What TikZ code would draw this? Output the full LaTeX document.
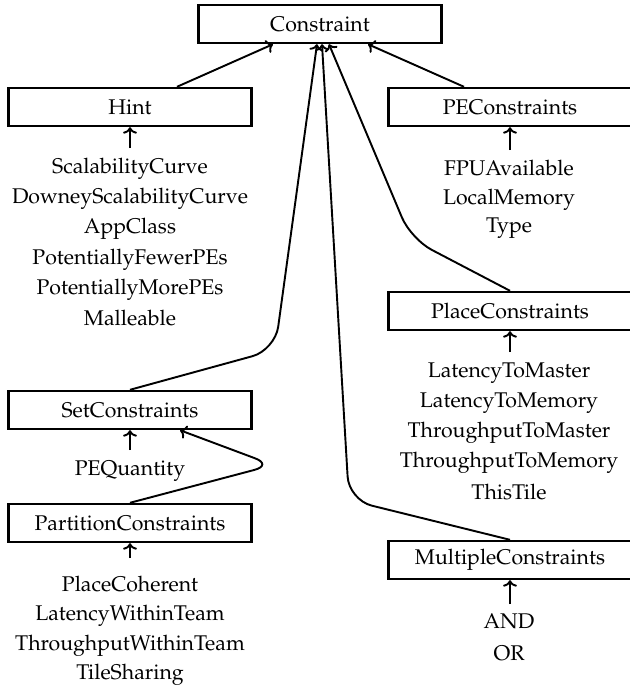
\documentclass[tikz,border=0pt]{standalone}
\usepackage[T1]{fontenc}
\usepackage{mathpazo}
\usetikzlibrary{arrows.meta,calc}
\begin{document}
\begin{tikzpicture}[x=0.47pt,y=-0.47pt,
  box/.style={draw,line width=1.1pt,minimum width=114.2pt,minimum height=17.9pt,
    inner sep=0pt,font=\fontsize{10}{12}\selectfont},
  item/.style={anchor=base,inner sep=0pt,font=\fontsize{10}{12}\selectfont},
  tip/.style={-{To[length=3pt,width=6.5pt,line width=0.9pt]}},
  link/.style={line width=0.9pt,tip,rounded corners=11pt},
  tick/.style={line width=0.9pt,tip}]
\useasboundingbox (0,0) rectangle (629,686);

% class boxes
\node[box] (con)   at (320,24)  {Constraint};
\node[box] (hint)  at (130,107) {Hint};
\node[box] (pe)    at (510,107) {PEConstraints};
\node[box] (place) at (510,311) {PlaceConstraints};
\node[box] (set)   at (130,410) {SetConstraints};
\node[box] (part)  at (130,523) {PartitionConstraints};
\node[box] (multi) at (510,560) {MultipleConstraints};

% members of Hint
\node[item] (h1) at (130,173) {ScalabilityCurve};
\node[item] (h2) at (130,203) {DowneyScalabilityCurve};
\node[item] (h3) at (130,233) {AppClass};
\node[item] (h4) at (130,264) {PotentiallyFewerPEs};
\node[item] (h5) at (130,294) {PotentiallyMorePEs};
\node[item] (h6) at (130,325) {Malleable};

% members of PEConstraints
\node[item] (p1) at (509,175) {FPUAvailable};
\node[item] (p2) at (509,204) {LocalMemory};
\node[item] (p3) at (509,232) {Type};

% members of PlaceConstraints
\node[item] (l1) at (509,377) {LatencyToMaster};
\node[item] (l2) at (509,407) {LatencyToMemory};
\node[item] (l3) at (509,437) {ThroughputToMaster};
\node[item] (l4) at (509,467) {ThroughputToMemory};
\node[item] (l5) at (509,499) {ThisTile};

% members of SetConstraints
\node[item] (s1) at (130,475) {PEQuantity};

% members of PartitionConstraints
\node[item] (t1) at (130,591) {PlaceCoherent};
\node[item] (t2) at (130,620) {LatencyWithinTeam};
\node[item] (t3) at (130,650) {ThroughputWithinTeam};
\node[item] (t4) at (130,679) {TileSharing};

% members of MultipleConstraints
\node[item] (m1) at (509,628) {AND};
\node[item] (m2) at (509,660) {OR};

% feet of the short member arrows
\coordinate (hfoot) at (130,148);
\coordinate (pfoot) at ($(pe.south)+(0,23)$);
\coordinate (lfoot) at ($(place.south)+(0,21)$);
\coordinate (sfoot) at (130,450);
\coordinate (tfoot) at (130,558);
\coordinate (mfoot) at ($(multi.south)+(0,24)$);

\draw[tick] (hfoot) -- (hint.south);
\draw[tick] (pfoot) -- (pe.south);
\draw[tick] (lfoot) -- (place.south);
\draw[tick] (sfoot) -- (set.south);
\draw[tick] (tfoot) -- (part.south);
\draw[tick] (mfoot) -- (multi.south);

% bends of the inheritance links
\coordinate (setbend)   at (275,350);
\coordinate (placebend) at (411,239);
\coordinate (multibend) at (349,500);
\coordinate (partbend)  at (273,465);

% inheritance links
\draw[link] ($(hint.north)+(47,0)$) -- ($(con.south)+(-47,0)$);
\draw[link] ($(pe.north)+(-46,0)$) -- ($(con.south)+(48,0)$);
\draw[link] (set.north) -- (setbend) -- ($(con.south)+(-3,0)$);
\draw[link] (place.north) -- (placebend) -- ($(con.south)+(9,0)$);
\draw[link] (multi.north) -- (multibend) -- ($(con.south)+(2,0)$);
\draw[link,rounded corners=9pt] (part.north) -- (partbend) -- ($(set.south)+(50,0)$);
\end{tikzpicture}
\end{document}
